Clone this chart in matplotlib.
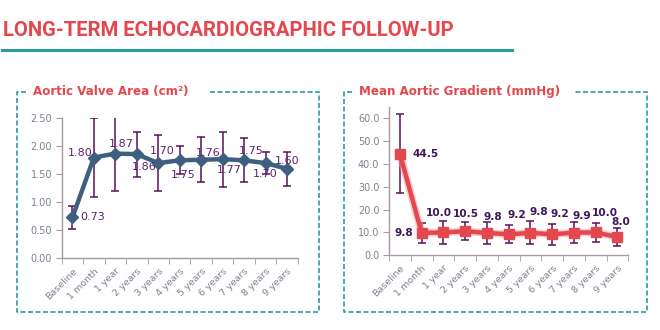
import matplotlib
matplotlib.use("Agg")
import matplotlib.pyplot as plt
from matplotlib.lines import Line2D

# ---- data ----
periods = ["Baseline", "1 month", "1 year", "2 years", "3 years", "4 years",
           "5 years", "6 years", "7 years", "8 years", "9 years"]

ava_mean = [0.73, 1.80, 1.87, 1.86, 1.70, 1.75, 1.76, 1.77, 1.75, 1.70, 1.60]
ava_err = [0.20, 0.70, 0.66, 0.40, 0.50, 0.25, 0.40, 0.49, 0.39, 0.20, 0.30]

grad_mean = [44.5, 9.8, 10.0, 10.5, 9.8, 9.2, 9.8, 9.2, 9.9, 10.0, 8.0]
grad_err = [17.2, 4.3, 5.0, 4.0, 4.7, 4.0, 5.0, 4.6, 4.5, 4.0, 3.9]

main_title = "LONG-TERM ECHOCARDIOGRAPHIC FOLLOW-UP"
left_title = "Aortic Valve Area (cm\u00b2)"
right_title = "Mean Aortic Gradient (mmHg)"

# ---- style ----
RED = "#E5474F"
TEAL = "#2A9BA3"
NAVY = "#3E5F80"
ERR = "#5A0F5A"
TICK = "#7F8190"
SPINE = "#A898A8"
LBL_L = "#5B2370"
LBL_R = "#3D1858"

plt.rcParams["font.family"] = ["DejaVu Sans"]
plt.rcParams["lines.scale_dashes"] = False

W, H = 660, 330
fig = plt.figure(figsize=(W / 100, H / 100), dpi=100)


def fx(px):
    return px / W


def fy(py):
    return 1 - py / H


# header
fig.text(fx(3), fy(30), main_title, color=RED, fontsize=14.6, fontweight="bold",
         family=["Roboto", "DejaVu Sans"], ha="left", va="center")
fig.add_artist(Line2D([fx(2), fx(512)], [fy(50), fy(50)], color=TEAL, lw=2.2))


def dashed(xs, ys):
    fig.add_artist(Line2D([fx(x) for x in xs], [fy(y) for y in ys], color=TEAL,
                          lw=1.2, dashes=(3.6, 1.8)))


def panel_box(x0, x1, y0, y1, gap0, gap1):
    dashed([gap0, x0, x0, x1, x1, gap1], [y0, y0, y1, y1, y0, y0])


panel_box(17, 319, 91.5, 311.5, 26, 209)
panel_box(343.5, 646.5, 91.5, 311.5, 352, 575)

fig.text(fx(33), fy(91), left_title, color=RED, fontsize=8.6, fontweight="bold",
         ha="left", va="center")
fig.text(fx(359), fy(91), right_title, color=RED, fontsize=8.6, fontweight="bold",
         ha="left", va="center")


def style_axes(ax, n):
    ax.set_xlim(-0.5, n - 0.5)
    for s in ("top", "right"):
        ax.spines[s].set_visible(False)
    for s in ("left", "bottom"):
        ax.spines[s].set_color(SPINE)
        ax.spines[s].set_linewidth(1.0)
    ax.set_xticks(range(n))
    ax.set_xticklabels(periods, rotation=45, ha="right", rotation_mode="anchor",
                       fontsize=6.8, color=TICK)
    ax.tick_params(axis="x", which="major", length=0, pad=6)
    ax.set_xticks([i - 0.5 for i in range(n + 1)], minor=True)
    ax.tick_params(axis="x", which="minor", length=4, color=SPINE, direction="out")
    ax.tick_params(axis="y", length=4, color=SPINE, labelsize=7, labelcolor=TICK, pad=3)
    ax.patch.set_alpha(0)


n = len(periods)
x = list(range(n))

# ---- left: aortic valve area ----
axL = fig.add_axes([fx(61.7), fy(258.3), fx(297.7 - 61.7), (258.3 - 118.3) / H])
style_axes(axL, n)
axL.set_ylim(0, 2.5)
axL.set_yticks([0, 0.5, 1.0, 1.5, 2.0, 2.5])
axL.set_yticklabels([f"{v:.2f}" for v in [0, 0.5, 1.0, 1.5, 2.0, 2.5]])
axL.errorbar(x, ava_mean, yerr=ava_err, fmt="none", ecolor=ERR, elinewidth=1.1,
             capsize=2.6, capthick=1.1, zorder=2)
axL.plot(x, ava_mean, color=NAVY, lw=3.2, marker="D", markersize=6,
         markerfacecolor=NAVY, markeredgecolor=NAVY, zorder=3,
         solid_capstyle="round", solid_joinstyle="round")

left_offsets = [(8, 0, "left"), (-1, 5, "right"), (6, 10, "center"), (7, -13, "center"),
                (4, 12, "center"), (4, -15, "center"), (7, 7, "center"), (7, -11, "center"),
                (7, 9, "center"), (0, -11, "center"), (0, 8, "center")]
for xi, v, (dx, dy, ha) in zip(x, ava_mean, left_offsets):
    axL.annotate(f"{v:.2f}", (xi, v), xytext=(dx, dy), textcoords="offset pixels",
                 ha=ha, va="center", fontsize=8, color=LBL_L, zorder=4)

# ---- right: mean aortic gradient ----
axR = fig.add_axes([fx(389), fy(255.3), fx(628.3 - 389), (255.3 - 106.7) / H])
style_axes(axR, n)
axR.set_ylim(0, 65)
axR.set_yticks(range(0, 61, 10))
axR.set_yticklabels([f"{v:.1f}" for v in range(0, 61, 10)])
axR.errorbar(x, grad_mean, yerr=grad_err, fmt="none", ecolor=ERR, elinewidth=1.1,
             capsize=2.6, capthick=1.1, zorder=2)
# soft glow under the gradient line
axR.plot(x, grad_mean, color="#F4A3A7", lw=5.5, alpha=0.55, zorder=2.5,
         solid_joinstyle="round")
axR.plot(x, grad_mean, color=RED, lw=3.2, marker="s", markersize=7.5,
         markerfacecolor=RED, markeredgecolor=RED, zorder=3,
         solid_joinstyle="round")

right_offsets = [(13, 0, "left"), (-8, 0, "right"), (-5, 19, "center"), (1, 17, "center"),
                 (6, 16, "center"), (8, 19, "center"), (8, 21, "center"), (8, 20, "center"),
                 (8, 17, "center"), (9, 19, "center"), (3, 15, "center")]
for xi, v, (dx, dy, ha) in zip(x, grad_mean, right_offsets):
    axR.annotate(f"{v:.1f}", (xi, v), xytext=(dx, dy), textcoords="offset pixels",
                 ha=ha, va="center", fontsize=7.6, fontweight="bold", color=LBL_R, zorder=4)

fig.savefig("out.png", dpi=100)
